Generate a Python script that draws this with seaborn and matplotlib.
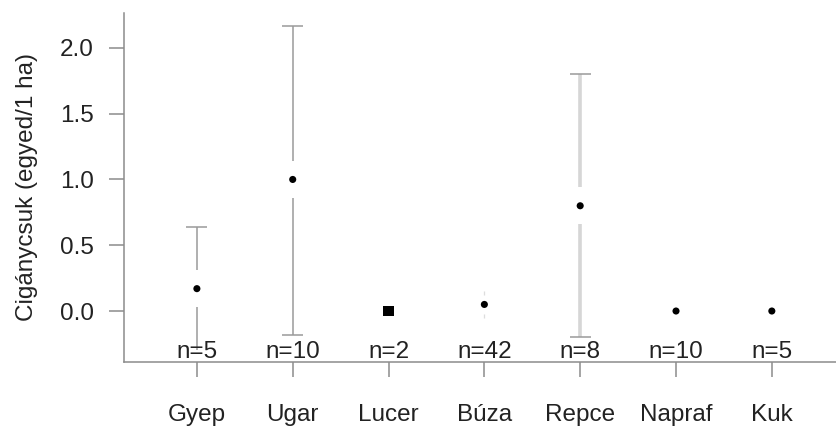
import numpy as np
import pandas as pd
import matplotlib
matplotlib.use("Agg")
import matplotlib.pyplot as plt
import matplotlib.transforms as mtransforms
import seaborn as sns

# Data
categories = ['Gyep', 'Ugar', 'Lucer', 'Búza', 'Repce', 'Napraf', 'Kuk']
means = [0.17, 1.0, 0.0, 0.05, 0.8, 0.0, 0.0]
upper = [0.64, 2.17, 0.0, 0.15, 1.80, 0.0, 0.0]
lower = [-0.30, -0.18, 0.0, -0.05, -0.20, 0.0, 0.0]
n_counts = [5, 10, 2, 42, 8, 10, 5]
marker_kind = ['dot', 'dot', 'square', 'dot', 'dot', 'dot', 'dot']
bar_color = ['#9a9a9a', '#9a9a9a', '#9a9a9a', '#dddddd', '#d6d6d6', '#9a9a9a', '#9a9a9a']
bar_width = [1.1, 1.1, 1.1, 0.9, 2.6, 1.1, 1.1]

df = pd.DataFrame({'cat': categories, 'mean': means, 'up': upper, 'lo': lower,
                   'n': n_counts, 'kind': marker_kind})

sns.set_style('white')
plt.rcParams['font.family'] = ['Liberation Sans', 'DejaVu Sans']
axis_col = '#8c8c8c'
text_col = '#222222'
fs = 17.5

fig = plt.figure(figsize=(8.37, 4.30), dpi=100)
ax = fig.add_axes([0.148, 0.158, 0.852, 0.812])

gap = 0.14
for i, row in df.iterrows():
    if row['up'] - row['lo'] <= 0:
        continue
    c, lw = bar_color[i], bar_width[i]
    if i == 3:
        ax.vlines(i, row['mean'] + 0.07, row['up'], color=c, lw=lw, zorder=1)
        ax.vlines(i, row['lo'], row['mean'] - 0.07, color=c, lw=lw, zorder=1)
        continue
    ax.vlines(i, row['mean'] + gap, row['up'], color=c, lw=lw, zorder=1)
    ax.vlines(i, row['lo'], row['mean'] - gap, color=c, lw=lw, zorder=1)
    ax.hlines(row['up'], i - 0.11, i + 0.11, color='#9a9a9a', lw=1.1, zorder=1)
    if i in (1, 4):
        ax.hlines(row['lo'], i - 0.11, i + 0.11, color='#9a9a9a', lw=1.1, zorder=1)

df['x'] = np.arange(len(df))
sns.scatterplot(data=df, x='x', y='mean', style='kind',
                markers={'dot': 'o', 'square': 's'},
                size='kind', sizes={'dot': 26, 'square': 60},
                color='black', edgecolor='black', linewidth=0,
                legend=False, ax=ax, zorder=3)

trans = mtransforms.blended_transform_factory(ax.transData, ax.transAxes)
for i, n in enumerate(df['n']):
    ax.text(i, -0.002, f'n={n}', transform=trans, ha='center', va='bottom',
            fontsize=fs, color=text_col, zorder=4)

ax.set_xlim(-0.762, 6.68)
ax.set_ylim(-0.388, 2.266)
ax.set_xticks(range(len(categories)))
ax.set_xticklabels(categories)
ax.set_yticks([0.0, 0.5, 1.0, 1.5, 2.0])
ax.set_yticklabels(['0.0', '0.5', '1.0', '1.5', '2.0'])
ax.set_xlabel('')
ax.set_ylabel('Cigánycsuk (egyed/1 ha)', fontsize=fs, color=text_col)
ax.yaxis.set_label_coords(-0.121, 0.5)

for s in ['top', 'right']:
    ax.spines[s].set_visible(False)
for s in ['left', 'bottom']:
    ax.spines[s].set_color(axis_col)
    ax.spines[s].set_linewidth(1.1)
ax.tick_params(axis='both', direction='out', length=10.8, width=1.1, color=axis_col,
               labelsize=fs, labelcolor=text_col, left=True, bottom=True)
ax.tick_params(axis='x', pad=19.5)
ax.tick_params(axis='y', pad=11)

fig.savefig('out.png', dpi=100, facecolor='white')
